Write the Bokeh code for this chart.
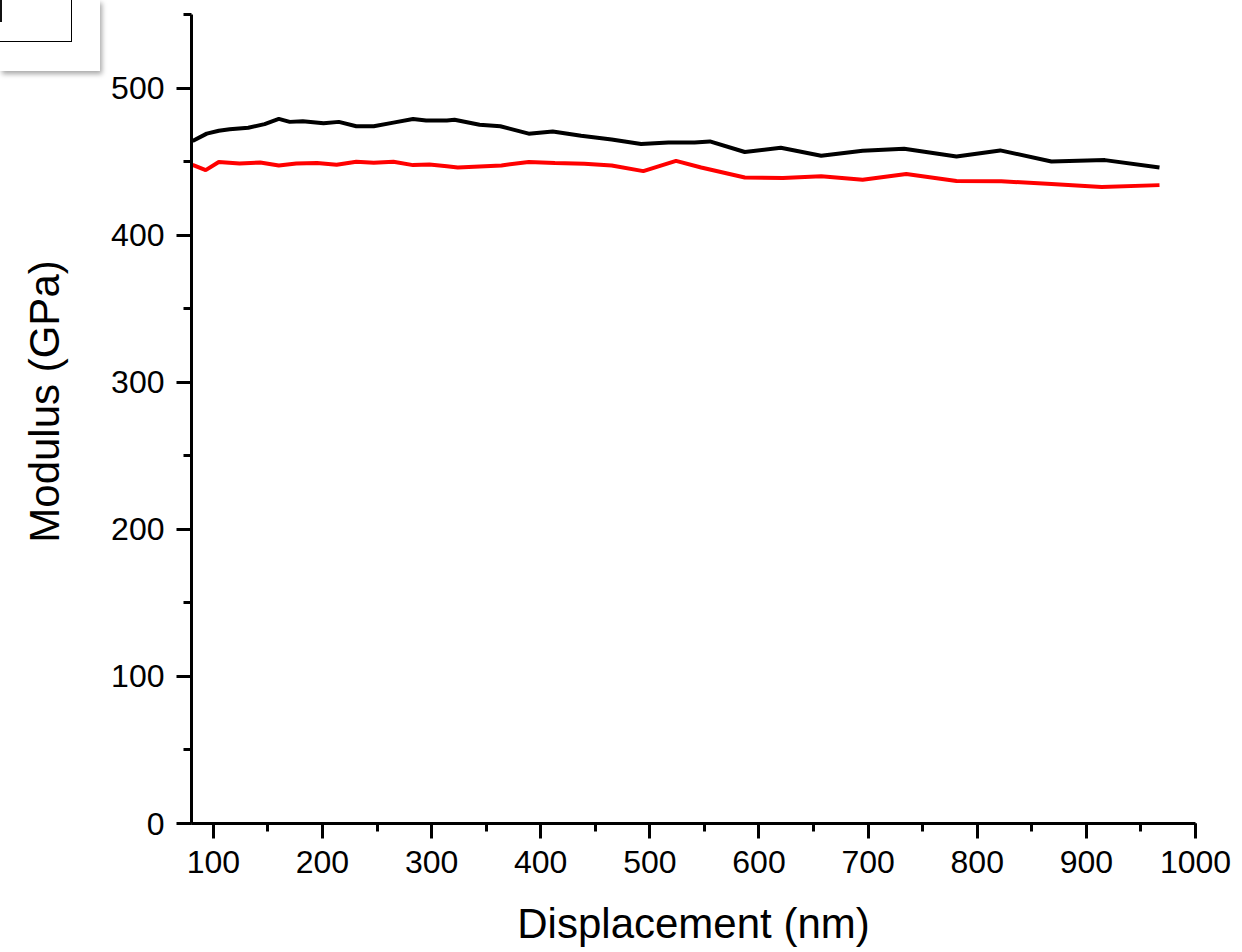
from bokeh.plotting import figure
from bokeh.models import SingleIntervalTicker, Range1d, InlineStyleSheet
from bokeh.embed import file_html
from bokeh.resources import INLINE

# Displacement (nm) / Modulus (GPa), black series
black_x = [81, 94, 105, 115, 132, 147, 160, 170, 182, 201, 215, 231, 247, 265, 283, 295, 314,
           321, 344, 363, 389, 411, 437, 465, 492, 517, 541, 555, 587, 620, 657, 695, 733,
           781, 821, 868, 917, 967]
black_y = [464, 469, 471, 472, 473, 475.5, 479, 477, 477.5, 476, 477, 474, 474, 476.5, 479, 478, 478,
           478.4, 475, 474, 469, 470.5, 467.5, 465, 462, 463, 463, 463.7, 456.5, 459.4, 454, 457.3, 458.7,
           453.5, 457.6, 450.1, 451, 446]

# red series
red_x = [81, 93, 105, 124, 143, 160, 176, 195, 213, 231, 247, 265, 283, 298, 314, 324, 364, 389,
         413, 440, 465, 494, 524, 547, 587, 622, 657, 695, 735, 781, 822, 868, 914, 967]
red_y = [447.8, 444.2, 449.7, 448.7, 449.4, 447.4, 448.7, 449, 447.8, 449.9, 449.2, 449.9, 447.6, 448,
         446.8, 446, 447.4, 449.7, 449, 448.5, 447.4, 443.5, 450.5, 446, 439.2, 438.8, 440.1, 437.6,
         441.5, 436.8, 436.7, 434.7, 432.7, 434]

x_label = "Displacement (nm)"
y_label = "\u00a0\u00a0\u00a0Modulus (GPa)"

p = figure(width=1242, height=952, output_backend="svg", toolbar_location=None,
           x_range=Range1d(80, 1000), y_range=Range1d(0, 550),
           min_border_left=191, min_border_right=47, min_border_top=14, min_border_bottom=129)
p.outline_line_color = None
p.xgrid.visible = False
p.ygrid.visible = False

p.line(black_x, black_y, line_color="black", line_width=4)
p.line(red_x, red_y, line_color="#ff0000", line_width=4)

p.xaxis.ticker = SingleIntervalTicker(interval=100, num_minor_ticks=2)
p.yaxis.ticker = SingleIntervalTicker(interval=100, num_minor_ticks=2)

for ax in (p.xaxis, p.yaxis):
    ax.axis_line_width = 3
    ax.major_tick_line_width = 3
    ax.minor_tick_line_width = 3
    ax.major_tick_out = 15
    ax.major_tick_in = 0
    ax.minor_tick_out = 8
    ax.minor_tick_in = 0
    ax.major_label_text_font = "Liberation Sans"
    ax.major_label_text_font_size = "32px"
    ax.major_label_text_color = "black"
    ax.axis_label_text_font = "Liberation Sans"
    ax.axis_label_text_font_size = "42px"
    ax.axis_label_text_font_style = "normal"
    ax.axis_label_text_color = "black"

p.xaxis.axis_label = x_label
p.yaxis.axis_label = y_label
p.xaxis.major_label_standoff = 12
p.yaxis.major_label_standoff = 12
p.xaxis.axis_label_standoff = 24
p.yaxis.axis_label_standoff = 40

# truncated legend frame visible in the top-left corner of the original image
corner_css = InlineStyleSheet(css="""
:host::before {
  content: ""; position: absolute; left: 0; top: 0; width: 100px; height: 71px;
  background: white; box-shadow: 2px 3px 5px rgba(0, 0, 0, 0.35); z-index: 10; pointer-events: none;
}
:host::after {
  content: ""; position: absolute; left: -2px; top: -2px; width: 74px; height: 44px;
  border: 1.5px solid black; box-sizing: border-box; z-index: 11; pointer-events: none;
  background: linear-gradient(#111111, #111111) no-repeat 0px 0px / 3px 23px;
}
""")
p.stylesheets = [corner_css]

open("out.html", "w").write(file_html(p, INLINE))
